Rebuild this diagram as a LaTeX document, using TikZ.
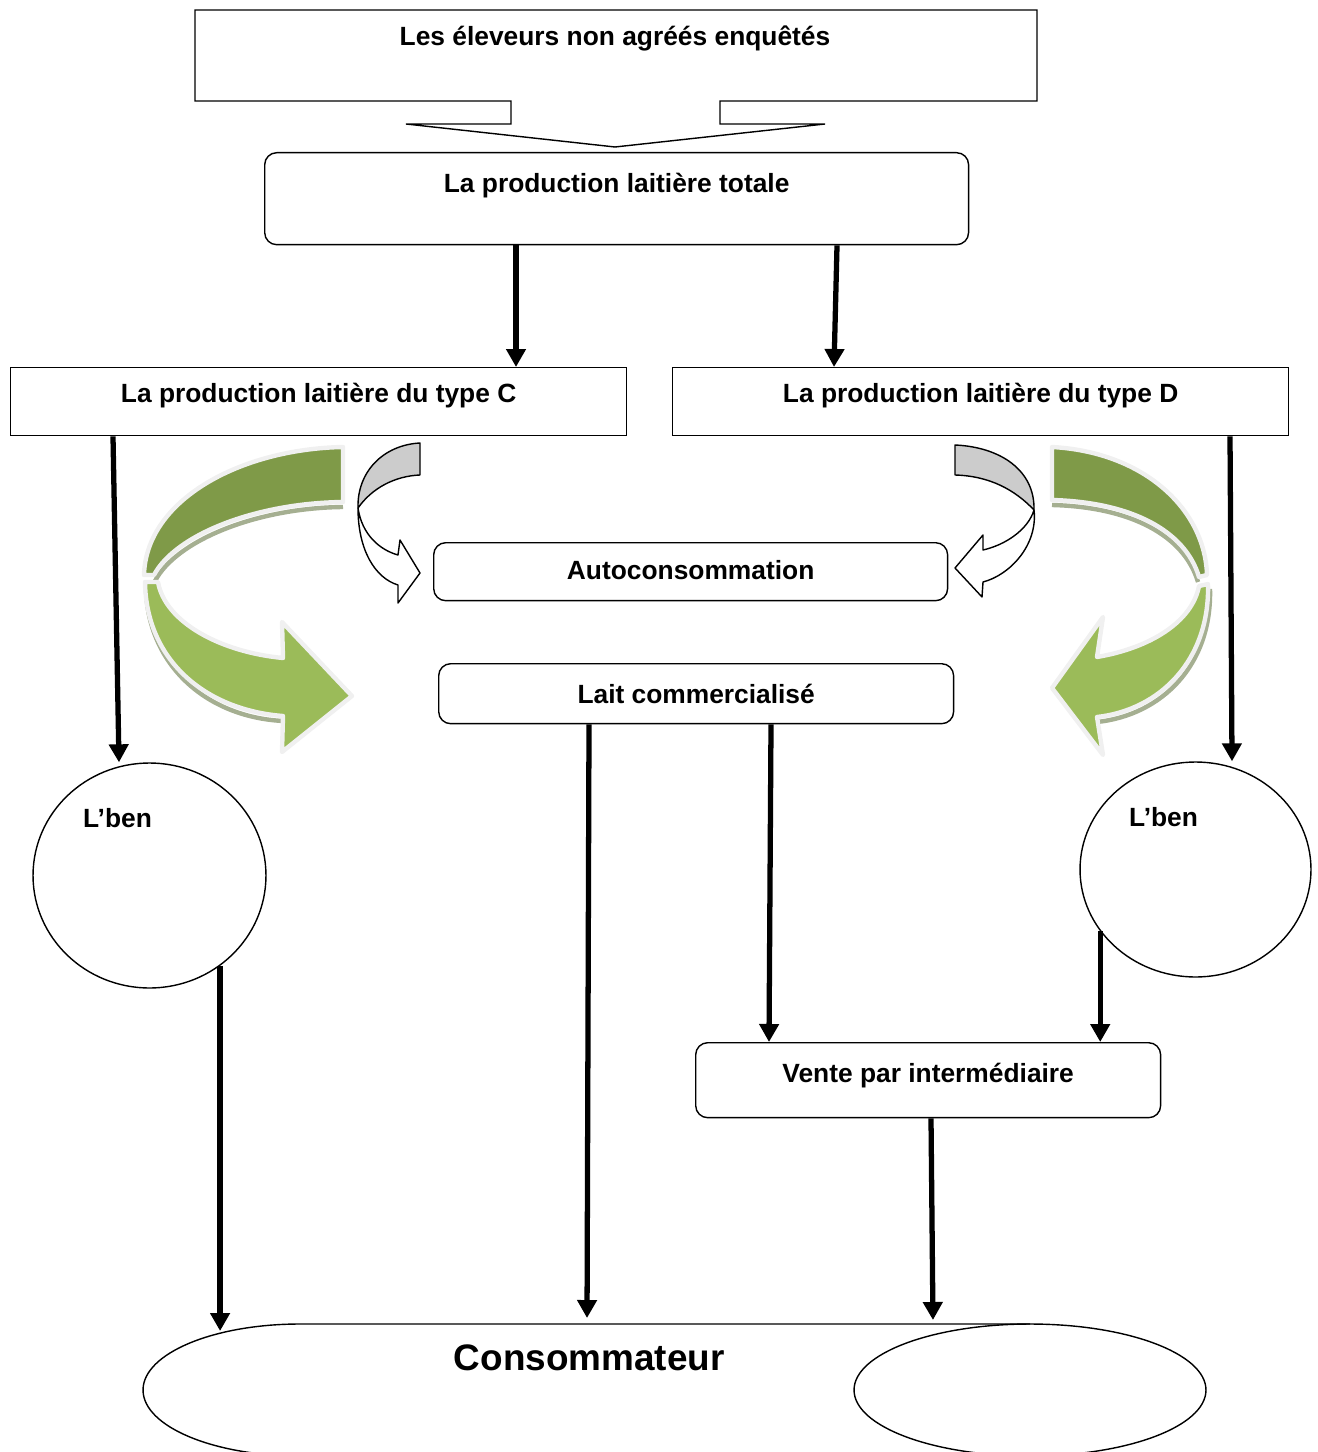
\documentclass[tikz,border=0pt]{standalone}
\usepackage{fontspec}
\setmainfont{Liberation Sans}
\usetikzlibrary{shapes.geometric, arrows.meta, positioning, calc}

\definecolor{leafdark}{RGB}{127,154,72}
\definecolor{leaflight}{RGB}{155,187,89}
\definecolor{leafrim}{RGB}{240,240,240}
\definecolor{leafshade}{RGB}{165,175,145}
\definecolor{twistgray}{RGB}{204,204,204}

\begin{document}
\begin{tikzpicture}[
    x=0.02cm, y=-0.02cm,
    box/.style={rectangle, draw, line width=0.8pt, inner sep=0pt, anchor=north west, font=\fontsize{15}{18}\selectfont\bfseries},
    rbox/.style={box, rounded corners=0.24cm},
    lben/.style={ellipse, draw, line width=0.8pt, inner sep=0pt},
    lbl/.style={font=\fontsize{15}{18}\selectfont\bfseries, inner sep=0pt, anchor=base},
    flow/.style={-{Triangle[length=0.36cm, width=0.38cm]}, line width=3pt},
    ribbon/.style={draw=leafrim, line width=2.5pt, line join=round},
    twist/.style={draw, line width=0.8pt, line join=round}
]

\useasboundingbox (0,0) rectangle (1317,1452);
\clip (0,0) rectangle (1317,1452);

\draw[line width=0.8pt] (195,10) -- (1037,10) -- (1037,101) -- (720,101) -- (720,124) -- (825,124)
    -- (615,147) -- (406,124) -- (511,124) -- (511,101) -- (195,101) -- cycle;
\node[lbl] (eleveurs) at (615,46) {Les éleveurs non agréés enquêtés};

\node[rbox, minimum width=14.08cm, text height=0.8cm, text depth=1.04cm] (totale) at (264,152) {La production laitière totale};
\node[box, minimum width=12.32cm, text height=0.7cm, text depth=0.66cm] (typeC) at (10,367) {La production laitière du type C};
\node[box, minimum width=12.32cm, text height=0.7cm, text depth=0.66cm] (typeD) at (672,367) {La production laitière du type D};

% Twisted arrows
\draw[leafshade, line width=2.5pt] (155,581) .. controls (176,541) and (255,508) .. (343,507);
\draw[leafshade, line width=2.5pt] (146,589) .. controls (148,665) and (206,717) .. (283,721);
\path[ribbon, fill=leafdark] (343,447) .. controls (240,449) and (146,500) .. (144,575) -- (154,575)
    .. controls (175,535) and (255,503) .. (343,502) -- cycle;
\path[ribbon, fill=leaflight] (145,582) .. controls (146,660) and (205,710) .. (283,716) -- (282,752) -- (352,696)
    -- (282,622) -- (283,658) .. controls (220,652) and (165,622) .. (158,582) -- cycle;

\draw[leafshade, line width=2.5pt] (1198,582) .. controls (1184,535) and (1130,507) .. (1052,505);
\draw[leafshade, line width=2.5pt] (1210,589) .. controls (1212,665) and (1162,715) .. (1097,722);
\path[ribbon, fill=leafdark] (1052,447) .. controls (1145,452) and (1205,510) .. (1207,575) -- (1199,577)
    .. controls (1185,530) and (1130,502) .. (1052,500) -- cycle;
\path[ribbon, fill=leaflight] (1208,584) .. controls (1210,660) and (1160,710) .. (1097,717) -- (1103,755) -- (1052,688)
    -- (1103,617) -- (1097,657) .. controls (1150,648) and (1192,622) .. (1199,586) -- cycle;

\path[twist, fill=twistgray] (420,443) .. controls (383,445) and (357,472) .. (358,508)
    .. controls (372,488) and (395,476) .. (420,475) -- cycle;
\path[twist, fill=white] (358,508) .. controls (358,550) and (375,578) .. (398,585) -- (398,603) -- (420,573)
    -- (400,540) -- (398,555) .. controls (380,550) and (362,535) .. (358,508) -- cycle;
\path[twist, fill=twistgray] (955,445) .. controls (1000,447) and (1035,470) .. (1034,510)
    .. controls (1015,490) and (990,476) .. (955,475) -- cycle;
\path[twist, fill=white] (1034,510) .. controls (1038,545) and (1010,575) .. (983,582) -- (982,597) -- (955,568)
    -- (983,535) -- (983,550) .. controls (1005,545) and (1028,530) .. (1034,510) -- cycle;

\node[rbox, minimum width=10.28cm, text height=0.74cm, text depth=0.42cm] (autocons) at (433,542) {Autoconsommation};
\node[rbox, minimum width=10.3cm, text height=0.8cm, text depth=0.4cm] (lait) at (438,663) {Lait commercialisé};
\node[rbox, minimum width=9.3cm, text height=0.8cm, text depth=0.7cm] (vente) at (695,1042) {Vente par intermédiaire};

\node[lben, minimum width=4.66cm, minimum height=4.5cm] (lbenC) at (149.5,875.5) {};
\node[lbl] (tLbenC) at (117.5,827) {L’ben};
\node[lben, minimum width=4.62cm, minimum height=4.3cm] (lbenD) at (1195.5,869.5) {};
\node[lbl] (tLbenD) at (1163.5,826) {L’ben};

\node[anchor=north west, inner sep=0pt, minimum width=17.84cm, text height=0.92cm, text depth=1.7cm,
      font=\fontsize{21}{25}\selectfont\bfseries] (conso) at (143,1324) {Consommateur};
\draw[line width=0.8pt] (1030,1324) -- (300,1324) arc[start angle=90, end angle=270, x radius=3.14cm, y radius=1.32cm];
\node[lben, minimum width=7.04cm, minimum height=2.64cm] (consoB) at (1030,1390) {};

\draw[flow] (516,0 |- totale.south) -- (516,0 |- typeC.north);
\draw[flow] (837,0 |- totale.south) -- (834,0 |- typeD.north);
\draw[flow] (113,0 |- typeC.south) -- (119,0 |- lbenC.north);
\draw[flow] (1230,0 |- typeD.south) -- (1232,0 |- lbenD.north);
\draw[flow, shorten >=-0.14cm] (lbenC.-52) -- (lbenC.-52 |- conso.north);
\draw[flow, shorten >=0.12cm] (589,0 |- lait.south) -- (587,0 |- conso.north);
\draw[flow] (771,0 |- lait.south) -- (769,0 |- vente.north);
\draw[flow] (lbenD.-147) -- (lbenD.-147 |- vente.north);
\draw[flow, shorten >=0.08cm] (931,0 |- vente.south) -- (933,0 |- conso.north);

\end{tikzpicture}
\end{document}
